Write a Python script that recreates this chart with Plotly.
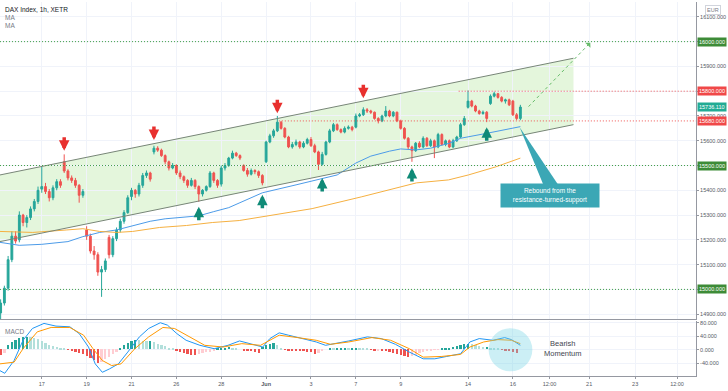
import plotly.graph_objects as go

# ---------------- data ----------------
bar_index = list(range(1, 141))  # hourly bars, 6 per trading day

opens = [
    14905, 14945, 15005, 15120, 15215,
    15200, 15300, 15270, 15290, 15325, 15355,
    15405, 15415, 15395, 15370, 15410, 15435,
    15515, 15478, 15450, 15440, 15420, 15380,
    15240, 15215, 15155, 15140, 15070, 15080,
    15210, 15140, 15205, 15240, 15275, 15310,
    15375, 15400, 15385, 15420, 15460, 15470,
    15555, 15570, 15562, 15540, 15515, 15490,
    15500, 15470, 15455, 15440, 15420, 15440,
    15415, 15385, 15400, 15415, 15470, 15440,
    15425, 15490, 15500, 15530, 15550, 15540,
    15500, 15480, 15465, 15480, 15475, 15460,
    15515, 15595, 15620, 15640, 15675, 15650,
    15615, 15575, 15585, 15595, 15575, 15590,
    15605, 15580, 15555, 15505, 15545, 15595,
    15640, 15665, 15645, 15635, 15650, 15655,
    15655, 15700, 15705, 15725, 15720, 15715,
    15690, 15680, 15700, 15720, 15700, 15715,
    15680, 15650, 15610, 15575, 15560, 15590,
    15575, 15610, 15580, 15600, 15575, 15625,
    15585, 15600, 15575, 15600, 15615, 15665,
    15735, 15760, 15740, 15720, 15710, 15715,
    15750, 15780, 15790, 15775, 15760, 15765,
    15760, 15705, 15690,
]
highs = [
    14960, 15015, 15135, 15235, 15235,
    15315, 15305, 15300, 15335, 15365, 15415,
    15495, 15430, 15405, 15420, 15445, 15445,
    15545, 15485, 15460, 15450, 15425, 15405,
    15255, 15225, 15175, 15150, 15095, 15125,
    15220, 15215, 15250, 15285, 15320, 15380,
    15410, 15405, 15430, 15470, 15480, 15475,
    15580, 15578, 15568, 15545, 15520, 15510,
    15505, 15480, 15460, 15445, 15450, 15445,
    15420, 15405, 15420, 15478, 15475, 15445,
    15500, 15510, 15535, 15560, 15555, 15545,
    15505, 15490, 15488, 15485, 15480, 15465,
    15600, 15628, 15648, 15700, 15680, 15655,
    15620, 15595, 15605, 15600, 15598, 15612,
    15615, 15588, 15560, 15555, 15600, 15648,
    15672, 15670, 15650, 15658, 15662, 15660,
    15710, 15712, 15735, 15732, 15725, 15718,
    15695, 15705, 15740, 15725, 15720, 15718,
    15685, 15655, 15615, 15580, 15595, 15598,
    15618, 15615, 15608, 15605, 15632, 15630,
    15605, 15605, 15608, 15620, 15672, 15700,
    15803, 15765, 15745, 15725, 15722, 15720,
    15787, 15798, 15793, 15780, 15770, 15770,
    15765, 15712, 15745,
]
lows = [
    14880, 14935, 14995, 15110, 15185,
    15190, 15255, 15250, 15280, 15315, 15345,
    15390, 15385, 15355, 15360, 15400, 15410,
    15470, 15440, 15430, 15410, 15350, 15370,
    15200, 15145, 15120, 15055, 14970, 15070,
    15125, 15130, 15195, 15230, 15265, 15305,
    15360, 15370, 15375, 15410, 15450, 15435,
    15545, 15555, 15535, 15505, 15480, 15485,
    15462, 15445, 15430, 15410, 15415, 15405,
    15354, 15375, 15395, 15410, 15430, 15410,
    15415, 15480, 15495, 15525, 15535, 15522,
    15475, 15455, 15460, 15465, 15450, 15420,
    15510, 15590, 15612, 15635, 15645, 15610,
    15570, 15568, 15578, 15568, 15570, 15585,
    15575, 15550, 15482, 15500, 15540, 15590,
    15635, 15640, 15630, 15630, 15645, 15638,
    15650, 15695, 15700, 15712, 15708, 15685,
    15670, 15675, 15695, 15695, 15695, 15675,
    15645, 15605, 15565, 15515, 15555, 15570,
    15570, 15575, 15575, 15530, 15570, 15580,
    15578, 15570, 15570, 15595, 15610, 15660,
    15730, 15735, 15715, 15705, 15705, 15675,
    15745, 15775, 15770, 15755, 15750, 15740,
    15700, 15683, 15683,
]
closes = [
    14945, 15005, 15120, 15215, 15195,
    15300, 15270, 15290, 15325, 15355, 15400,
    15415, 15395, 15370, 15410, 15435, 15420,
    15478, 15450, 15440, 15420, 15380, 15395,
    15215, 15155, 15140, 15070, 15080, 15115,
    15140, 15205, 15240, 15275, 15310, 15370,
    15400, 15385, 15420, 15460, 15470, 15445,
    15570, 15562, 15540, 15515, 15490, 15500,
    15470, 15455, 15440, 15420, 15440, 15415,
    15385, 15400, 15415, 15470, 15440, 15420,
    15490, 15500, 15530, 15550, 15540, 15530,
    15480, 15465, 15480, 15475, 15460, 15430,
    15595, 15620, 15640, 15675, 15650, 15615,
    15575, 15585, 15595, 15575, 15590, 15605,
    15580, 15555, 15505, 15545, 15595, 15640,
    15665, 15645, 15635, 15650, 15655, 15645,
    15700, 15705, 15725, 15720, 15715, 15690,
    15680, 15700, 15720, 15700, 15715, 15680,
    15650, 15610, 15575, 15560, 15590, 15575,
    15610, 15580, 15600, 15575, 15625, 15585,
    15600, 15575, 15600, 15615, 15665, 15690,
    15760, 15740, 15720, 15710, 15715, 15690,
    15780, 15790, 15775, 15760, 15765, 15745,
    15705, 15690, 15736,
]
last_price = 15736.11

# moving averages (read at sample bars)
ma_fast_x = [0.8, 6, 12, 19, 23, 27.5, 32, 36, 41, 45, 51, 54, 58, 62, 65, 71, 80, 87, 91, 96,
             100, 105, 108, 112, 116, 121, 124, 131, 135, 139, 140]
ma_fast_y = [15190, 15178, 15182, 15193, 15213, 15230, 15240, 15255, 15275, 15285, 15293, 15297,
             15314, 15330, 15350, 15390, 15422, 15446, 15462, 15510, 15538, 15558, 15567, 15563,
             15570, 15590, 15610, 15630, 15643, 15655, 15657]
ma_slow_x = [0.8, 9.6, 18.7, 23, 27.5, 32, 36.3, 43.5, 50.7, 57.6, 64.8, 84.3, 97.6, 106.9,
             112.2, 120.8, 126.1, 133.3, 140]
ma_slow_y = [15234, 15230, 15240, 15245, 15234, 15230, 15234, 15250, 15258, 15270, 15278,
             15326, 15374, 15410, 15430, 15442, 15462, 15494, 15530]

# MACD pane
macd_x = [0.8, 2.1, 4.6, 7.0, 9.5, 12.6, 15.8, 19.5, 22, 24.5, 26.3, 28.2, 30.1, 32.5, 35, 38.1,
          40.6, 43.7, 45.6, 48.1, 50.6, 54.3, 58.1, 61.8, 64.9, 68, 71.1, 73, 75.5, 78, 81.7,
          85.4, 87.9, 90.4, 94.1, 99.1, 102.8, 106.6, 110.3, 114, 117.1, 120.3, 124, 126.5,
          129, 132.7, 135.8, 137.6, 140]
macd_y = [-62, -70, -32, 28, 63, 78, 70, 68, 48, 8, -42, -67, -57, -42, -7, 38, 63, 80, 73, 48,
          28, 13, 3, 13, 26, 16, 8, 33, 50, 43, 33, 23, 13, 18, 26, 38, 33, 16, -7, -27, -27,
          -20, -12, 23, 33, 28, 36, 30, 13]
signal_x = [0.8, 4.6, 7.0, 10.8, 14.5, 19.5, 23.2, 25.7, 28.2, 30.7, 33.2, 36.9, 40.6, 44.4,
            47.5, 50.6, 55.6, 60.5, 65.5, 70.5, 75.5, 80.4, 85.4, 89.2, 94.1, 100.3, 105.3,
            110.3, 114, 119, 124, 126.5, 130.2, 134, 137.6, 140]
signal_y = [-42, -37, 3, 53, 66, 66, 43, 3, -32, -47, -42, 3, 38, 66, 63, 43, 13, 8, 18, 13, 43,
            36, 28, 16, 23, 36, 28, 3, -22, -20, -14, 8, 23, 30, 28, 18]
hist = [
    -18, -10, 12, 22, 28,
    33, 37, 38, 36, 35, 30,
    25, 19, 14, 10, 6, 3,
    1, -2, -5, -8, -10, -14,
    -20, -27, -33, -40, -38, -30,
    -22, -14, -7, 2, 12, 20,
    26, 28, 27, 25, 24, 26,
    22, 17, 13, 9, 5, 1,
    -3, -7, -11, -14, -16, -18,
    -15, -12, -9, -7, -4, 1,
    3, 5, 6, 5, 3, 0,
    -3, -4, -5, -7, -10, 6,
    12, 16, 20, 12, 5, -1,
    -3, -4, -5, -6, -6, -7,
    -9, -14, -12, -6, 0, 3,
    2, 2, 3, 4, 3, 5,
    5, 4, 3, 1, -2, -4,
    -3, -4, -6, -8, -10, -13,
    -17, -20, -22, -19, -16, -12,
    -9, -6, -4, -2, -1, 1,
    2, 4, 6, 10, 14, 17,
    17, 15, 12, 9, 6, 6,
    5, 3, 1, -2, -4, -6,
    -8, -11,
]

# axis ticks
time_tick_pos = [12, 24, 36, 48, 60, 72, 84, 96, 108, 126, 138, 147.8, 158.4, 170.7, 181.9]
time_tick_text = ["17", "19", "21", "26", "28", "<b>Jun</b>", "3", "7", "9", "14", "16",
                  "12:00", "21", "23", "12:00"]
price_ticks = list(range(14900, 16101, 100))
macd_ticks = [-40, 0, 40, 80]

# drawings
channel_x = [0.83, 154.2]
channel_upper = [15462, 15933]
channel_lower = [15193, 15665]
level_values = [16000, 15800, 15680, 15500, 15000]
level_kind = ["support", "resistance", "resistance", "support", "support"]
level_start = [None, 123.5, 75.4, None, None]
red_arrow_x = [18, 42, 75, 98]
red_arrow_y = [15560, 15603, 15711, 15772]
green_arrow_x = [54, 71, 87, 111, 131]
green_arrow_y = [15334, 15382, 15450, 15490, 15655]
projection_x = [142.2, 158.7]
projection_y = [15738, 15996]
callout_pos = (147.8, 15378)
callout_tip = (139.8, 15655)
callout_base = [(146.2, 15420), (150.2, 15420)]
ellipse_box = (131.5, 143.2, -64, 64)
momentum_label_pos = (151.5, 4)

X_RANGE = [0.83, 186.97]
Y_RANGE = [14880, 16160]
Y2_RANGE = [-78, 84]

GREEN = "#26a69a"
RED = "#ef5350"
GRID = "#f0f3fa"
FONT = "Liberation Sans"
TXT = "#434651"
DOT = "1px,2px"

fig = go.Figure()

fig.add_trace(go.Candlestick(
    x=bar_index, open=opens, high=highs, low=lows, close=closes,
    increasing=dict(line=dict(color=GREEN, width=1), fillcolor=GREEN),
    decreasing=dict(line=dict(color=RED, width=1), fillcolor=RED),
    whiskerwidth=0, showlegend=False, hoverinfo="skip", xaxis="x", yaxis="y"))

fig.add_trace(go.Scatter(x=ma_fast_x, y=ma_fast_y, mode="lines",
                         line=dict(color="#4c9be8", width=1), showlegend=False,
                         hoverinfo="skip", xaxis="x", yaxis="y"))
fig.add_trace(go.Scatter(x=ma_slow_x, y=ma_slow_y, mode="lines",
                         line=dict(color="#f5b041", width=1), showlegend=False,
                         hoverinfo="skip", xaxis="x", yaxis="y"))

fig.add_trace(go.Scatter(x=projection_x, y=projection_y, mode="lines",
                         line=dict(color="#66bb6a", width=1, dash="3px,3px"), showlegend=False,
                         hoverinfo="skip", xaxis="x", yaxis="y"))

# MACD pane
hist_colors = []
for k, v in enumerate(hist):
    prev = hist[k - 1] if k > 0 else v
    if v >= 0:
        hist_colors.append(GREEN if v >= prev else "#b2dfdb")
    else:
        hist_colors.append(RED if v <= prev else "#ffcdd2")
fig.add_trace(go.Bar(x=bar_index, y=hist, marker=dict(color=hist_colors, line=dict(width=0)),
                     width=0.6, showlegend=False, hoverinfo="skip", xaxis="x2", yaxis="y2"))
fig.add_trace(go.Scatter(x=macd_x, y=macd_y, mode="lines", line=dict(color="#2196f3", width=1),
                         showlegend=False, hoverinfo="skip", xaxis="x2", yaxis="y2"))
fig.add_trace(go.Scatter(x=signal_x, y=signal_y, mode="lines", line=dict(color="#ff9800", width=1),
                         showlegend=False, hoverinfo="skip", xaxis="x2", yaxis="y2"))

shapes = []
# channel fill and lines
shapes.append(dict(type="path", xref="x", yref="y", layer="below",
                   path=f"M {channel_x[0]},{channel_upper[0]} L {channel_x[1]},{channel_upper[1]} "
                        f"L {channel_x[1]},{channel_lower[1]} L {channel_x[0]},{channel_lower[0]} Z",
                   fillcolor="rgba(120,210,80,0.2)", line=dict(width=0)))
for ys in (channel_upper, channel_lower):
    shapes.append(dict(type="line", xref="x", yref="y", x0=channel_x[0], x1=channel_x[1],
                       y0=ys[0], y1=ys[1], line=dict(color="#778577", width=1)))
# horizontal levels
for v, kind, start in zip(level_values, level_kind, level_start):
    col = "#43a047" if kind == "support" else "#ef5350"
    shapes.append(dict(type="line", xref="x", yref="y",
                       x0=X_RANGE[0] if start is None else start, x1=X_RANGE[1],
                       y0=v, y1=v, line=dict(color=col, width=1, dash=DOT)))
# callout pointer
shapes.append(dict(type="path", xref="x", yref="y",
                   path=f"M {callout_tip[0]},{callout_tip[1]} L {callout_base[0][0]},{callout_base[0][1]} "
                        f"L {callout_base[1][0]},{callout_base[1][1]} Z",
                   fillcolor="#3ba7b5", line=dict(width=0)))
# ellipse in MACD pane
shapes.append(dict(type="circle", xref="x2", yref="y2", x0=ellipse_box[0], x1=ellipse_box[1],
                   y0=ellipse_box[2], y1=ellipse_box[3], fillcolor="rgba(110,210,225,0.35)",
                   line=dict(width=0), layer="above"))

annotations = []
# arrows (block arrows: thick shaft + head)
for x, y in zip(red_arrow_x, red_arrow_y):
    annotations.append(dict(x=x, y=y, xref="x", yref="y", text="", showarrow=True,
                            ax=0, ay=-15, arrowhead=2, arrowsize=0.6, arrowwidth=3.5,
                            arrowcolor="#e8302e", standoff=0))
for x, y in zip(green_arrow_x, green_arrow_y):
    annotations.append(dict(x=x, y=y, xref="x", yref="y", text="", showarrow=True,
                            ax=0, ay=15, arrowhead=2, arrowsize=0.6, arrowwidth=3.5,
                            arrowcolor="#0f8a77", standoff=0))
# projection arrow head
annotations.append(dict(x=projection_x[1], y=projection_y[1], xref="x", yref="y", text="",
                        showarrow=True, axref="x", ayref="y", ax=projection_x[1] - 1.0,
                        ay=projection_y[1] - 16, arrowhead=1, arrowsize=1.2, arrowwidth=1,
                        arrowcolor="#66bb6a"))
# callout box
annotations.append(dict(x=callout_pos[0], y=callout_pos[1], xref="x", yref="y",
                        text="Rebound from the<br>resistance-turned-support", showarrow=False,
                        bgcolor="#3ba7b5", font=dict(color="white", size=6.5, family=FONT),
                        width=94, height=19, borderpad=2))
# Bearish Momentum
annotations.append(dict(x=momentum_label_pos[0], y=momentum_label_pos[1], xref="x2", yref="y2",
                        text="Bearish<br>Momentum", showarrow=False,
                        font=dict(color=TXT, size=7.5, family=FONT)))
# price badges
badge_col = {"support": "#3d8b37", "resistance": "#f04848"}
for v, kind in zip(level_values, level_kind):
    annotations.append(dict(x=1, xref="paper", xanchor="left", xshift=1, y=v, yref="y",
                            text=f"{v:.3f}", showarrow=False, bgcolor=badge_col[kind],
                            font=dict(color="white", size=5.5, family=FONT), borderpad=1))
annotations.append(dict(x=1, xref="paper", xanchor="left", xshift=1, y=last_price, yref="y",
                        text=f"{last_price:.3f}", showarrow=False, bgcolor="#22ab94",
                        font=dict(color="white", size=5.5, family=FONT), borderpad=1))
# header texts
annotations.append(dict(x=0, xref="paper", xanchor="left", xshift=3, y=1, yref="paper",
                        yanchor="top", yshift=-2, text="DAX Index, 1h, XETR", showarrow=False,
                        font=dict(color="#131722", size=6.5, family=FONT)))
for k in range(2):
    annotations.append(dict(x=0, xref="paper", xanchor="left", xshift=3, y=1, yref="paper",
                            yanchor="top", yshift=-10 - 8 * k, text="MA", showarrow=False,
                            font=dict(color="#787b86", size=6.5, family=FONT)))
annotations.append(dict(x=0, xref="paper", xanchor="left", xshift=3, y=1, yref="y2 domain",
                        yanchor="top", yshift=-5, text="MACD", showarrow=False,
                        font=dict(color="#787b86", size=6.5, family=FONT)))
annotations.append(dict(x=1, xref="paper", xanchor="left", xshift=9, y=1, yref="paper",
                        yanchor="top", yshift=-3, text="EUR", showarrow=False,
                        bordercolor="#d1d4dc", borderwidth=1, borderpad=1,
                        font=dict(color="#787b86", size=5.5, family=FONT)))

# tick labels hidden where a level badge sits on the axis
price_tick_text = ["" if v in level_values else f"{v:.3f}" for v in price_ticks]

axis_font = dict(size=5.5, color="#555a66", family=FONT)
fig.update_layout(
    width=728, height=391,
    margin=dict(l=0, r=32, t=0, b=15),
    paper_bgcolor="white", plot_bgcolor="white",
    showlegend=False, bargap=0,
    font=dict(family=FONT),
    shapes=shapes, annotations=annotations,
    xaxis=dict(domain=[0, 1], anchor="y", range=X_RANGE, tickvals=time_tick_pos,
               showticklabels=False, showgrid=True, gridcolor=GRID, zeroline=False,
               showline=True, linecolor="#9598a1", linewidth=1, ticks="",
               rangeslider=dict(visible=False)),
    yaxis=dict(domain=[0.152, 1], anchor="x", side="right", range=Y_RANGE,
               tickvals=price_ticks, ticktext=price_tick_text,
               tickfont=axis_font, showgrid=True, gridcolor=GRID, zeroline=False,
               showline=True, linecolor="#9598a1", linewidth=1, ticks="outside",
               ticklen=2, tickcolor="#9598a1"),
    xaxis2=dict(domain=[0, 1], anchor="y2", range=X_RANGE, tickvals=time_tick_pos,
                ticktext=time_tick_text, tickfont=axis_font, showgrid=True, gridcolor=GRID,
                zeroline=False, showline=True, linecolor="#9598a1", linewidth=1,
                ticks="outside", ticklen=2, tickcolor="#9598a1"),
    yaxis2=dict(domain=[0, 0.146], anchor="x2", side="right", range=Y2_RANGE,
                tickvals=macd_ticks, ticktext=[f"{v:.3f}" for v in macd_ticks],
                tickfont=axis_font, showgrid=True, gridcolor=GRID, zeroline=False,
                showline=True, linecolor="#9598a1", linewidth=1, ticks="outside",
                ticklen=2, tickcolor="#9598a1"),
)

fig.write_html("out.html", config={"displayModeBar": False},
               post_script="document.body.style.margin='0';document.body.style.overflow='hidden';")
